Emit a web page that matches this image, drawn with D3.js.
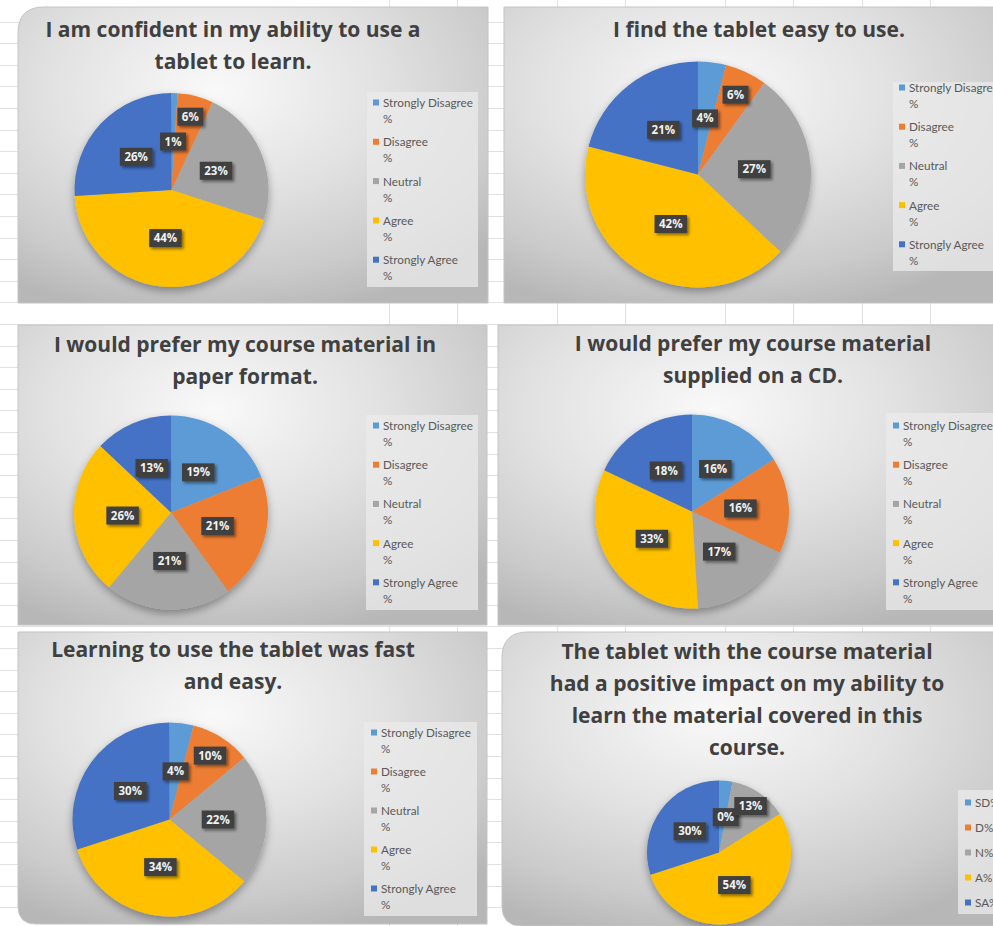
<!DOCTYPE html>
<html>
<head>
<meta charset="utf-8">
<script src="https://cdn.jsdelivr.net/npm/d3@7"></script>
<style>
  body { margin: 0; background: #fff; }
  svg { display: block; }
</style>
</head>
<body>
<div class="graph"></div>
<script>
const w = 993;
const h = 926;

// data
const categories = ["Strongly Disagree %", "Disagree %", "Neutral %", "Agree %", "Strongly Agree %"];
const shortCategories = ["SD%", "D%", "N%", "A%", "SA%"];
const colors = ["#5B9BD5", "#ED7D31", "#A5A5A5", "#FFC000", "#4472C4"];

const confidentTitle = ["I am confident in my ability to use a", "tablet to learn."];
const confidentValues = [1, 6, 23, 44, 26];

const easyTitle = ["I find the tablet easy to use."];
const easyValues = [4, 6, 27, 42, 21];

const paperTitle = ["I would prefer my course material in", "paper format."];
const paperValues = [19, 21, 21, 26, 13];

const cdTitle = ["I would prefer my course material", "supplied on a CD."];
const cdValues = [16, 16, 17, 33, 18];

const fastTitle = ["Learning to use the tablet was fast", "and easy."];
const fastValues = [4, 10, 22, 34, 30];

const impactTitle = ["The tablet with the course material", "had a positive impact on my ability to",
                     "learn the material covered in this", "course."];
const impactValues = [3, 0, 13, 54, 30];

// layout of the six chart boxes
const panels = [
  {title: confidentTitle, values: confidentValues, legend: categories,
   box: [18, 7, 470, 296], tl: 26, bl: 0, cx: 171.5, cy: 190, r: 97, tx: 233, ty: 37,
   lbox: [367, 92, 111, 195], lx: 373, ly: 103, step: 39.3},
  {title: easyTitle, values: easyValues, legend: categories,
   box: [504, 7, 500, 296], tl: 0, bl: 0, cx: 698, cy: 174.5, r: 113, tx: 759, ty: 37,
   lbox: [893, 82, 110, 189], lx: 899, ly: 88, step: 39.2},
  {title: paperTitle, values: paperValues, legend: categories,
   box: [18, 325, 469, 300], tl: 0, bl: 0, cx: 171, cy: 512.5, r: 97, tx: 245, ty: 352,
   lbox: [366, 415, 112, 195], lx: 373, ly: 426, step: 39.2},
  {title: cdTitle, values: cdValues, legend: categories,
   box: [498, 325, 510, 300], tl: 0, bl: 0, cx: 692, cy: 511.5, r: 97, tx: 753, ty: 351,
   lbox: [886, 413, 120, 197], lx: 893, ly: 426, step: 39.2},
  {title: fastTitle, values: fastValues, legend: categories,
   box: [18, 632, 469, 292], tl: 0, bl: 18, cx: 169.5, cy: 819.5, r: 97, tx: 233, ty: 657,
   lbox: [364, 722, 113, 194], lx: 371, ly: 733, step: 39},
  {title: impactTitle, values: impactValues, legend: shortCategories,
   box: [502, 632, 510, 294], tl: 26, bl: 20, cx: 719, cy: 852.5, r: 72, tx: 747, ty: 659,
   lbox: [958, 790, 50, 124], lx: 965, ly: 803, step: 25}
];

const gridRows = d3.range(1, 44).map(k => k * 21.6);
const gridCols = [389, 457, 557, 625, 725, 793, 862, 930];

const canvas = d3.select(".graph")
                 .append("svg")
                 .attr("width", w)
                 .attr("height", h);

const defs = canvas.append("defs");

const grad = defs.append("radialGradient")
                 .attr("id", "bg")
                 .attr("cx", "0.42").attr("cy", "0.28")
                 .attr("r", "0.78");
grad.append("stop").attr("offset", "0").attr("stop-color", "#f9f9f9");
grad.append("stop").attr("offset", "0.45").attr("stop-color", "#e2e2e2");
grad.append("stop").attr("offset", "0.8").attr("stop-color", "#cbcbcb");
grad.append("stop").attr("offset", "1").attr("stop-color", "#b7b7b7");

const pieShadow = defs.append("filter").attr("id", "pieShadow")
                      .attr("x", "-20%").attr("y", "-20%").attr("width", "140%").attr("height", "140%");
pieShadow.append("feDropShadow")
         .attr("dx", 0).attr("dy", 4).attr("stdDeviation", 4)
         .attr("flood-color", "#000").attr("flood-opacity", 0.35);

const boxShadow = defs.append("filter").attr("id", "boxShadow")
                      .attr("x", "-30%").attr("y", "-30%").attr("width", "160%").attr("height", "160%");
boxShadow.append("feDropShadow")
         .attr("dx", 2).attr("dy", 2).attr("stdDeviation", 1.5)
         .attr("flood-color", "#000").attr("flood-opacity", 0.45);

// spreadsheet grid behind the charts
const grid = canvas.append("g").attr("stroke", "#e1e1e1").attr("stroke-width", 1);
grid.selectAll(".row").data(gridRows).enter().append("line")
    .attr("x1", 0).attr("x2", w)
    .attr("y1", d => Math.round(d) + 0.5).attr("y2", d => Math.round(d) + 0.5);
grid.selectAll(".col").data(gridCols).enter().append("line")
    .attr("y1", 0).attr("y2", h)
    .attr("x1", d => d + 0.5).attr("x2", d => d + 0.5);

function boxPath(x, y, bw, bh, tl, bl) {
  const p = d3.path();
  p.moveTo(x + tl, y);
  p.lineTo(x + bw, y);
  p.lineTo(x + bw, y + bh);
  p.lineTo(x + bl, y + bh);
  if (bl) p.quadraticCurveTo(x, y + bh, x, y + bh - bl);
  p.lineTo(x, y + tl);
  if (tl) p.quadraticCurveTo(x, y, x + tl, y);
  p.closePath();
  return p.toString();
}

const pie = d3.pie().sort(null).value(d => d);

panels.forEach(function(pn) {
  const g = canvas.append("g");

  g.append("path")
   .attr("d", boxPath(pn.box[0], pn.box[1], pn.box[2], pn.box[3], pn.tl, pn.bl))
   .attr("fill", "url(#bg)")
   .attr("stroke", "#c4c4c4")
   .attr("stroke-width", 1);

  // title
  g.append("text")
   .attr("text-anchor", "middle")
   .attr("font-family", "'Open Sans', sans-serif")
   .attr("font-weight", 700)
   .attr("font-size", 21)
   .attr("fill", "#404040")
   .selectAll("tspan")
   .data(pn.title)
   .enter().append("tspan")
   .attr("x", pn.tx)
   .attr("y", (d, i) => pn.ty + i * 32)
   .text(d => d);

  // pie
  const arcs = pie(pn.values);
  const arc = d3.arc().innerRadius(0).outerRadius(pn.r);
  const pg = g.append("g")
              .attr("transform", `translate(${pn.cx},${pn.cy})`);
  pg.append("g")
    .attr("filter", "url(#pieShadow)")
    .selectAll("path")
    .data(arcs)
    .enter().append("path")
    .attr("d", arc)
    .attr("fill", (d, i) => colors[i]);

  // data labels: centroid, pushed outward when they collide with the previous one
  const inner = d3.arc().innerRadius(0).outerRadius(pn.r);
  const outer = d3.arc().innerRadius(pn.r * 0.78).outerRadius(pn.r * 0.78);
  const lg = pg.append("g");
  const placed = [];
  arcs.forEach(function(d, i) {
    const lab = lg.append("g");
    const rect = lab.append("rect").attr("fill", "#404040").attr("filter", "url(#boxShadow)");
    const txt = lab.append("text")
                   .attr("text-anchor", "middle")
                   .attr("dy", "0.35em")
                   .attr("font-family", "'Open Sans', sans-serif")
                   .attr("font-weight", 700)
                   .attr("font-size", 11.5)
                   .attr("fill", "#f2f2f2")
                   .text(d.data + "%");
    const bw = txt.node().getComputedTextLength() + 9;
    const bh = 18;
    let c = inner.centroid(d);
    const prev = placed[placed.length - 1];
    const hit = prev && Math.abs(c[0] - prev.x) < (bw + prev.w) / 2 && Math.abs(c[1] - prev.y) < bh;
    if (hit && d.data > 0) {
      c = outer.centroid(d);
    } else if (hit) {
      // an empty slice's label sits on top of the previous one and hides it
      prev.node.remove();
    }
    lab.attr("transform", `translate(${c[0]},${c[1]})`);
    rect.attr("x", -bw / 2).attr("y", -bh / 2).attr("width", bw).attr("height", bh);
    placed.push({x: c[0], y: c[1], w: bw, node: lab});
  });

  // legend
  g.append("rect")
   .attr("x", pn.lbox[0]).attr("y", pn.lbox[1])
   .attr("width", pn.lbox[2]).attr("height", pn.lbox[3])
   .attr("fill", "#ebebeb").attr("opacity", 0.75);

  const items = g.selectAll(".item")
                 .data(pn.legend)
                 .enter().append("g")
                 .attr("transform", (d, i) => `translate(${pn.lx},${pn.ly + i * pn.step})`);
  items.append("rect")
       .attr("x", 0).attr("y", -3.5)
       .attr("width", 6).attr("height", 6)
       .attr("fill", (d, i) => colors[i]);
  items.append("text")
       .attr("font-family", "Lato, 'Open Sans', sans-serif")
       .attr("font-size", 11.7)
       .attr("fill", "#595959")
       .selectAll("tspan")
       .data(d => {
         const k = d.lastIndexOf(" %");
         return k > 0 ? [d.slice(0, k), "%"] : [d];
       })
       .enter().append("tspan")
       .attr("x", 10)
       .attr("y", (d, i) => 4 + i * 16)
       .text(d => d);
});
</script>
</body>
</html>
